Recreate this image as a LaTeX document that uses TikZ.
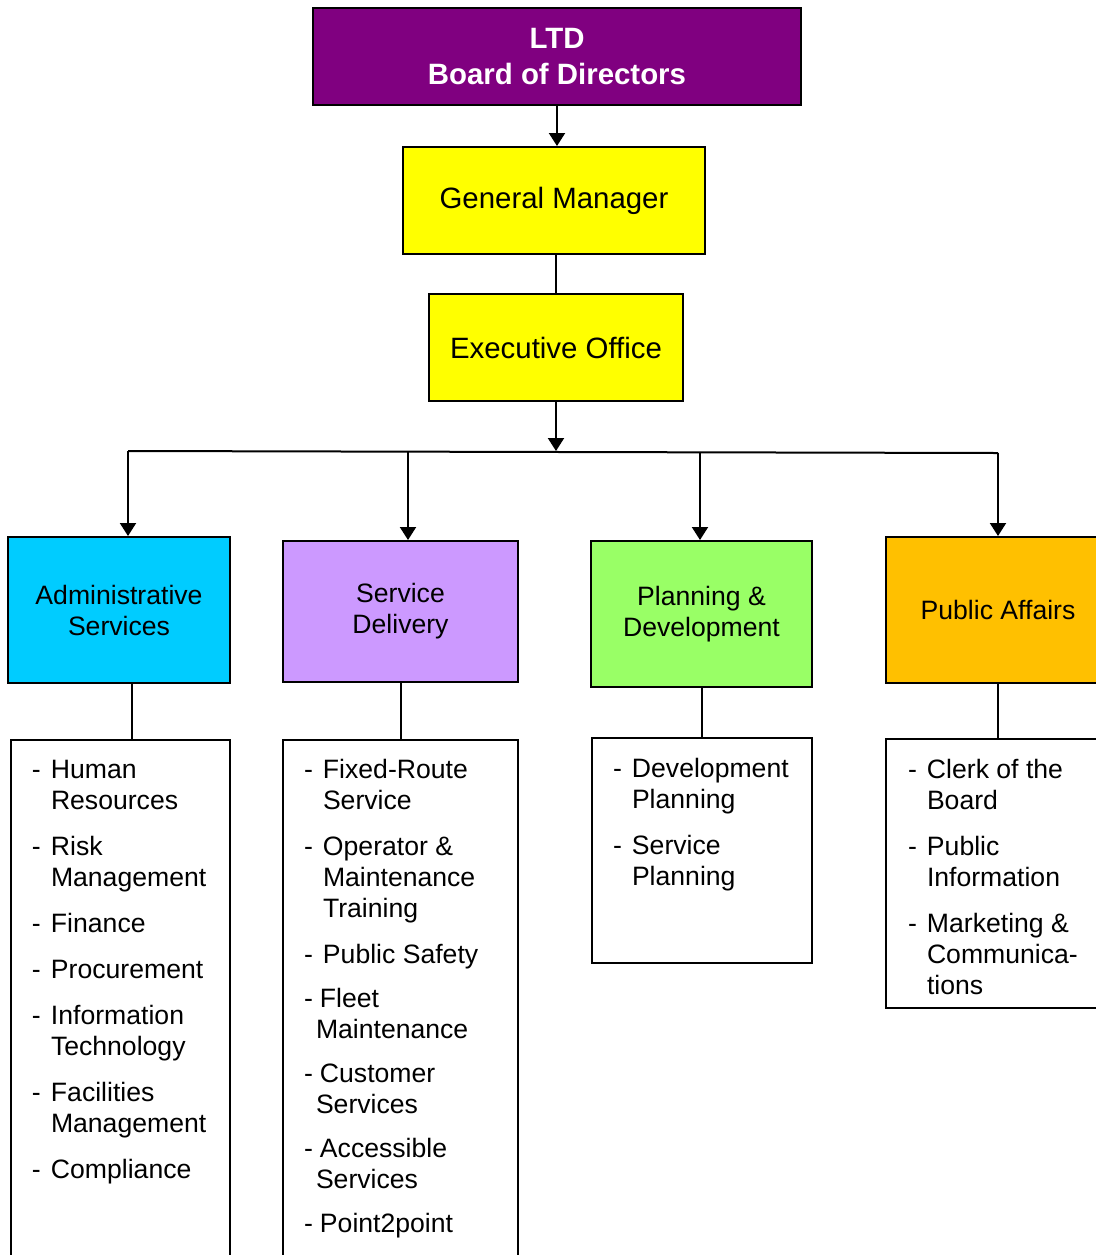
\documentclass[tikz,border=0pt]{standalone}
\usepackage{fontspec}
\setmainfont{Liberation Sans}
\usetikzlibrary{arrows.meta,scopes}

\definecolor{bodpurple}{HTML}{800080}
\definecolor{gmyellow}{HTML}{FFFF00}
\definecolor{adcyan}{HTML}{00CCFF}
\definecolor{sdlilac}{HTML}{CC99FF}
\definecolor{pdgreen}{HTML}{99FF66}
\definecolor{paorange}{HTML}{FFC000}

\newcommand{\lines}[1]{\begin{tabular}[t]{@{}l@{}}#1\end{tabular}}
\newcommand{\itm}[1]{\makebox[9.5pt][l]{-}#1}
\newcommand{\cnt}[1]{\hspace*{9.5pt}#1}
\newcommand{\itmb}[1]{\makebox[8pt][l]{-}#1}
\newcommand{\cntb}[1]{\hspace*{6pt}#1}

\begin{document}
\begin{tikzpicture}[x=0.5pt,y=-0.5pt,line width=1pt,
  every node/.style={font=\fontsize{13.3}{15.5}\selectfont},
  box/.style={draw,line width=1pt,inner sep=0pt,align=center},
  big/.style={font=\fontsize{14.7}{18}\selectfont},
  lst/.style={anchor=base west,inner sep=0pt},
  >={Triangle[width=8pt,length=6.5pt]}]
\useasboundingbox (0,0) rectangle (1096,1255);

\path node[box,fill=bodpurple,text=white,minimum width=244pt,minimum height=48.5pt,
           font={\fontsize{14.7}{18}\selectfont\bfseries}]          (bod) at (557,56.5)  {LTD\\Board of Directors}
      node[box,big,fill=gmyellow,minimum width=151pt,minimum height=53.5pt] (gm)  at (554,200.5) {General Manager}
      node[box,big,fill=gmyellow,minimum width=127pt,minimum height=53.5pt] (eo)  at (556,347.5) {Executive Office}
      node[box,fill=adcyan,  minimum width=111pt,minimum height=73pt]   (d1)  at (119,610)   {Administrative\\Services}
      node[box,fill=sdlilac, minimum width=117.5pt,minimum height=70.5pt] (d2) at (400.5,611.5) {Service\\Delivery}
      node[box,fill=pdgreen, minimum width=110.5pt,minimum height=73pt] (d3)  at (701.5,614) {Planning \&\\Development}
      node[box,fill=paorange,minimum width=112pt,minimum height=73pt]   (d4)  at (998,610)   {Public Affairs}
      node[box,minimum width=109.5pt,minimum height=265pt]              (l1)  at (120.5,1005) {}
      node[box,minimum width=117.5pt,minimum height=265pt]              (l2)  at (400.5,1005) {}
      node[box,minimum width=110pt,minimum height=112.5pt]              (l3)  at (702,850.5)  {}
      node[box,minimum width=112pt,minimum height=134.5pt]              (l4)  at (998,873.5)  {};

\path node[lst] (t1) at (31,778)  {\lines{\itm{Human}\\\cnt{Resources}\\[7.5pt]\itm{Risk}\\\cnt{Management}\\[7.5pt]
                                   \itm{Finance}\\[7.5pt]\itm{Procurement}\\[7.5pt]\itm{Information}\\\cnt{Technology}\\[7.5pt]
                                   \itm{Facilities}\\\cnt{Management}\\[7.5pt]\itm{Compliance}}}
      node[lst] (t2) at (303,778) {\lines{\itm{Fixed-Route}\\\cnt{Service}\\[7.5pt]\itm{Operator \&}\\\cnt{Maintenance}\\\cnt{Training}\\[7.5pt]
                                   \itm{Public Safety}\\[6.5pt]\itmb{Fleet}\\\cntb{Maintenance}\\[6.5pt]
                                   \itmb{Customer}\\\cntb{Services}\\[6.5pt]\itmb{Accessible}\\\cntb{Services}\\[6.5pt]\itmb{Point2point}}}
      node[lst] (t3) at (612,777) {\lines{\itm{Development}\\\cnt{Planning}\\[7.5pt]\itm{Service}\\\cnt{Planning}}}
      node[lst] (t4) at (907,778) {\lines{\itm{Clerk of the}\\\cnt{Board}\\[7.5pt]\itm{Public}\\\cnt{Information}\\[7.5pt]
                                   \itm{Marketing \&}\\\cnt{Communica-}\\\cnt{tions}}};

\coordinate (busL) at (128,451);
\coordinate (busR) at (998,453);
\coordinate (b2)   at (408,452);
\coordinate (b3)   at (700,453);

 {[->]
  \draw (bod.south) -- (bod.south |- gm.north);
  \draw (eo.south)  -- (eo.south |- busL);
  \draw (busL) -- (busL |- d1.north);
  \draw (b2)   -- (b2 |- d2.north);
  \draw (b3)   -- (b3 |- d3.north);
  \draw (busR) -- (busR |- d4.north);
 }
 \draw (gm.south -| eo.north) -- (eo.north);
 \draw (busL) -- (busR);
 \draw ([xshift=6.5pt]d1.south) -- ([xshift=6.5pt]d1.south |- l1.north);
 \draw (d2.south) -- (d2.south |- l2.north);
 \draw (d3.south) -- (d3.south |- l3.north);
 \draw (d4.south) -- (d4.south |- l4.north);
\end{tikzpicture}
\end{document}
